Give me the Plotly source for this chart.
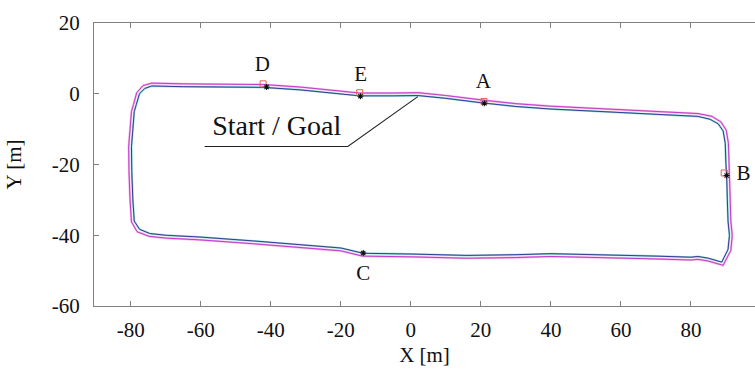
import plotly.graph_objects as go

# Outer trajectory (magenta)
outer_x = [2, 10, 20.6, 30, 39.7, 50, 60, 73, 82, 86, 88.6, 90.1, 90.7, 90.9, 91.0, 91.2, 91.4, 91.8, 91.4,
           89.2, 85, 82, 80, 70, 60, 50, 40, 30, 16, 0, -13.8, -20, -31.7, -45, -60.3, -70, -74.8, -78.2,
           -79.8, -80.2, -80.5, -80.6, -80.2, -79.8, -79.2, -78.3, -76.5, -74, -65, -55, -42, -31.7, -20,
           -14.6, -5, 2]
outer_y = [0.3, -0.5, -1.8, -2.8, -3.5, -4.0, -4.5, -5.0, -5.6, -6.4, -8, -10.3, -14, -20, -23, -30, -36, -40,
           -44.3, -48.5, -47.3, -46.8, -47.0, -46.7, -46.5, -46.4, -46.0, -46.3, -46.5, -46.1, -45.9, -44.4,
           -43.4, -42.4, -41.3, -40.8, -40.3, -39, -36.2, -30, -22, -15, -10, -5, -3, 0.3, 2.3, 3.0, 2.8,
           2.7, 2.6, 1.9, 0.6, 0.2, 0.2, 0.3]

# Inner trajectory (blue / cyan)
inner_x = [2, 10, 20.6, 30, 39.7, 50, 60, 73, 82, 85.4, 87.8, 89.2, 89.8, 90, 90.2, 90.4, 90.6, 91, 90.6,
           88.8, 85, 82, 80, 70, 60, 50, 40, 30, 16, 0, -13.6, -20, -31.7, -45, -60.3, -70, -74.6, -77.5,
           -79, -79.4, -79.7, -79.8, -79.4, -79, -78.4, -77.5, -76, -74, -65, -55, -42, -31.7, -20, -14.6,
           -5, 2]
inner_y = [-0.5, -1.3, -2.6, -3.6, -4.3, -4.8, -5.3, -5.8, -6.4, -7.2, -8.5, -10.5, -14, -20, -23, -30, -36,
           -40, -44, -47.6, -46.5, -46, -46.2, -45.9, -45.7, -45.6, -45.2, -45.5, -45.7, -45.3, -45.1, -43.6,
           -42.6, -41.6, -40.5, -40, -39.5, -38.3, -36, -30, -22, -15, -10, -5, -3, 0, 1.5, 2.2, 2.0, 1.9,
           1.8, 1.1, -0.2, -0.6, -0.6, -0.5]

# Waypoints
wp_names = ["D", "E", "A", "B", "C"]
wp_sq_x = [-42.2, -14.6, 20.9, 89.5]
wp_sq_y = [2.8, 0.3, -2.2, -22.4]
wp_st_x = [-41.2, -14.4, 21.0, 90.2, -13.6]
wp_st_y = [1.9, -0.7, -2.7, -23.1, -45.0]
wp_lbl_x = [-42.4, -14.3, 20.7, 95.0, -13.6]
wp_lbl_y = [7.8, 5.0, 3.1, -22.8, -51.1]

x_ticks = [-80, -60, -40, -20, 0, 20, 40, 60, 80]
x_ticktext = ["-80", "-60", "-40", "-20", "0", "20", "40", "60", "80"]
y_ticks = [-60, -40, -20, 0, 20]
y_ticktext = ["-60", "-40", "-20", "0", "20"]

start_text = "Start / Goal"
start_text_pos = (-38.3, -9.6)
start_leader_x = [-58.9, -18.0, 2.0]
start_leader_y = [-14.9, -14.9, -0.8]

FONT = "Times New Roman, Liberation Serif, DejaVu Serif, serif"

fig = go.Figure()
fig.add_trace(go.Scatter(x=outer_x, y=outer_y, mode="lines",
                         line=dict(color="#f4b4ea", width=2.2), hoverinfo="skip"))
fig.add_trace(go.Scatter(x=outer_x, y=outer_y, mode="lines",
                         line=dict(color="#c23cc8", width=1.0), hoverinfo="skip"))
fig.add_trace(go.Scatter(x=inner_x, y=inner_y, mode="lines",
                         line=dict(color="#8fdcdc", width=2.0), hoverinfo="skip"))
fig.add_trace(go.Scatter(x=inner_x, y=inner_y, mode="lines",
                         line=dict(color="#3a3a90", width=1.0), hoverinfo="skip"))

fig.add_trace(go.Scatter(x=start_leader_x, y=start_leader_y, mode="lines",
                         line=dict(color="#222222", width=1.1), hoverinfo="skip"))

fig.add_trace(go.Scatter(x=wp_sq_x, y=wp_sq_y, mode="markers",
                         marker=dict(symbol="square-open", size=6, color="#e0605a", line=dict(width=1)),
                         hoverinfo="skip"))
fig.add_trace(go.Scatter(x=wp_st_x, y=wp_st_y, mode="markers",
                         marker=dict(symbol="asterisk-open", size=5, color="#111111",
                                     line=dict(width=1.1, color="#111111")),
                         hoverinfo="skip"))
fig.add_trace(go.Scatter(x=wp_lbl_x, y=wp_lbl_y, mode="text", text=wp_names,
                         textfont=dict(family=FONT, size=21, color="#111111"), hoverinfo="skip"))
fig.add_trace(go.Scatter(x=[start_text_pos[0]], y=[start_text_pos[1]], mode="text", text=[start_text],
                         textfont=dict(family=FONT, size=28, color="#111111"), hoverinfo="skip"))

axis_common = dict(showline=True, linecolor="#808080", linewidth=1, ticks="inside", ticklen=5,
                   tickcolor="#808080", showgrid=False, zeroline=False,
                   tickfont=dict(family=FONT, size=21, color="#111111"))

fig.update_layout(
    width=755, height=374, margin=dict(l=94, r=0, t=23, b=68),
    paper_bgcolor="white", plot_bgcolor="white", showlegend=False,
    font=dict(family=FONT),
    xaxis=dict(range=[-90.5, 98.3], tickvals=x_ticks, ticktext=x_ticktext, mirror="ticks",
               title=dict(text="X [m]", font=dict(family=FONT, size=21, color="#111111"), standoff=6),
               ticklabelstandoff=5, **axis_common),
    yaxis=dict(range=[-60, 20], tickvals=y_ticks, ticktext=y_ticktext, mirror=False,
               title=dict(text="Y [m]", font=dict(family=FONT, size=21, color="#111111"), standoff=24),
               ticklabelstandoff=9, **axis_common),
)

fig.write_html("out.html")
